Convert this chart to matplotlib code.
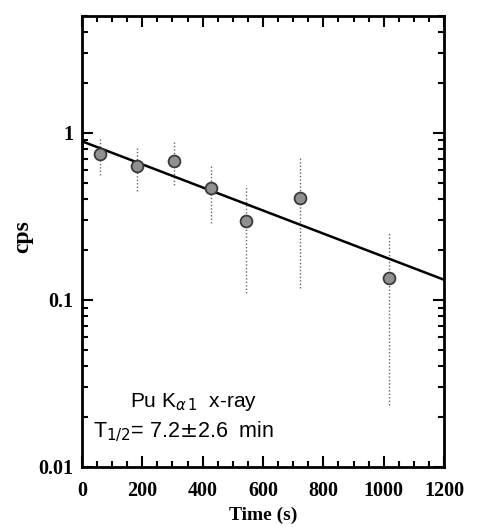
import numpy as np
import matplotlib
matplotlib.use("Agg")
import matplotlib.pyplot as plt
from matplotlib.ticker import FixedLocator, MultipleLocator, LogLocator, NullFormatter

# measured points (time in s, counts per second)
time_s = [60, 181, 305, 428, 544, 723, 1019]
cps = [0.749, 0.637, 0.680, 0.470, 0.297, 0.406, 0.136]
cps_hi = [0.93, 0.83, 0.88, 0.645, 0.49, 0.71, 0.25]
cps_lo = [0.56, 0.45, 0.49, 0.29, 0.11, 0.118, 0.0236]

# exponential fit, end points (straight on log axis)
fit_t = [0, 1200]
fit_cps = [0.89, 0.132]

x_ticks = [0, 200, 400, 600, 800, 1000, 1200]
y_ticks = [0.01, 0.1, 1]
y_tick_labels = ['0.01', '0.1', '1']

fig = plt.figure(figsize=(4.79, 5.27), dpi=100)
ax = fig.add_axes([0.171, 0.1139, 0.756, 0.8557])

t = np.array(time_s)
y = np.array(cps)
err = [y - np.array(cps_lo), np.array(cps_hi) - y]
eb = ax.errorbar(t, y, yerr=err, fmt='none', ecolor='#666666', elinewidth=1.0,
                 capsize=0, zorder=2)
eb[2][0].set_linestyle((0, (1, 1.5)))
ax.plot(fit_t, fit_cps, color='black', lw=1.8, zorder=3)
ax.plot(t, y, 'o', ms=8.5, mfc='#909090', mec='#3a3a3a', mew=1.3, zorder=4)

ax.set_yscale('log')
ax.set_xlim(0, 1200)
ax.set_ylim(0.01, 5)

ax.xaxis.set_major_locator(FixedLocator(x_ticks))
ax.xaxis.set_minor_locator(MultipleLocator(50))
ax.yaxis.set_major_locator(FixedLocator(y_ticks))
ax.set_yticklabels(y_tick_labels)
ax.yaxis.set_minor_locator(LogLocator(base=10, subs=np.arange(2, 10)))
ax.yaxis.set_minor_formatter(NullFormatter())

serif = 'Liberation Serif'
for lab in ax.get_xticklabels() + ax.get_yticklabels():
    lab.set_fontfamily(serif)
    lab.set_fontweight('bold')
    lab.set_fontsize(14.5)

ax.tick_params(which='both', direction='in', top=True, right=True, width=1.5)
ax.tick_params(axis='x', which='major', length=8, pad=10)
ax.tick_params(axis='y', which='major', length=8, pad=6)
ax.tick_params(which='minor', length=4)
for s in ax.spines.values():
    s.set_linewidth(2)

ax.set_ylabel('cps', fontfamily=serif, fontweight='bold', fontsize=17)
ax.yaxis.set_label_coords(-0.135, 0.51)
ax.set_xlabel('Time (s)', fontfamily=serif, fontweight='bold', fontsize=14, labelpad=4)

ax.text(159, 0.0229, r'Pu K$_{\alpha\,1}$  x-ray', fontfamily='Liberation Sans',
        fontsize=15, ha='left', va='baseline')
ax.text(36, 0.0151, r'T$_{1/2}$= 7.2$\pm$2.6  min', fontfamily='Liberation Sans',
        fontsize=15.5, ha='left', va='baseline')

fig.savefig('out.png', dpi=100)
